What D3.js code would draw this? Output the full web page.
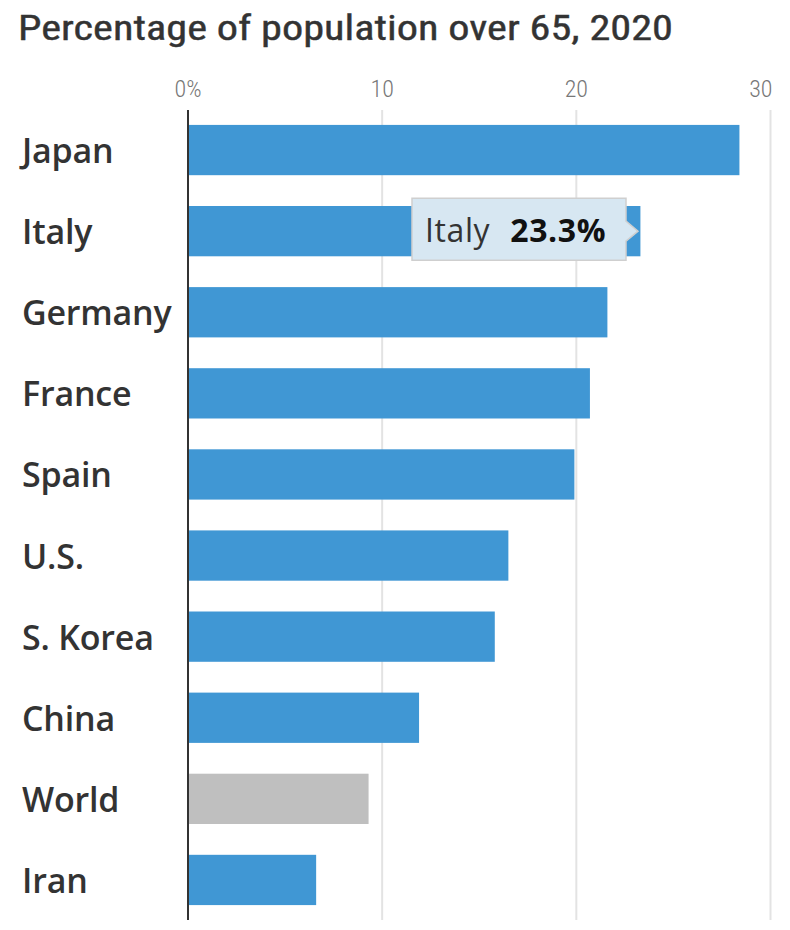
<!DOCTYPE html>
<html><head><meta charset="utf-8">
<script src="https://cdn.jsdelivr.net/npm/d3@7"></script>
<style>
body{margin:0;background:#fff;}
svg{display:block;}
</style></head>
<body>
<script>
const categories = ["Japan","Italy","Germany","France","Spain","U.S.","S. Korea","China","World","Iran"];
const values = [28.4,23.3,21.6,20.7,19.9,16.5,15.8,11.9,9.3,6.6];
const tickValues = [0,10,20,30];
const tickLabels = ["0%","10","20","30"];
const highlight = {name:"Italy", value:"23.3%"};

const W=790,H=930;
const svg=d3.select("body").append("svg").attr("width",W).attr("height",H);
const narrow="'Roboto Condensed','Liberation Sans Narrow',Roboto,sans-serif";

svg.append("text").attr("x",18).attr("y",40).attr("font-family",narrow)
  .attr("font-size",35).attr("font-weight",400).attr("fill","#333")
  .attr("stroke","#333").attr("stroke-width",0.4)
  .attr("textLength",655).attr("lengthAdjust","spacingAndGlyphs")
  .text("Percentage of population over 65, 2020");

const x=d3.scaleLinear().domain([0,30]).range([188,770.5]);
const y=d3.scaleBand().domain(categories).range([125-15.5,905+15.5]).paddingInner(0.38).paddingOuter(0.19);

svg.append("g").selectAll("line").data(tickValues.slice(1)).join("line")
  .attr("x1",d=>x(d)).attr("x2",d=>x(d)).attr("y1",110).attr("y2",920)
  .attr("stroke","#e3e3e3").attr("stroke-width",2);

svg.append("g").selectAll("text").data(tickValues).join("text")
  .attr("x",(d,i)=>i===tickValues.length-1?x(d)+2:x(d)).attr("y",97)
  .attr("text-anchor",(d,i)=>i===tickValues.length-1?"end":"middle")
  .attr("font-family",narrow).attr("font-weight",300).attr("font-size",24).attr("fill","#777")
  .text((d,i)=>tickLabels[i]);

svg.append("g").selectAll("rect").data(categories).join("rect")
  .attr("x",x(0)).attr("y",d=>y(d)).attr("height",y.bandwidth())
  .attr("width",(d,i)=>x(values[i])-x(0))
  .attr("fill",d=>d==="World"?"#bfbfbf":"#4097d4");

svg.append("line").attr("x1",x(0)).attr("x2",x(0)).attr("y1",110).attr("y2",920)
  .attr("stroke","#333").attr("stroke-width",2);

svg.append("g").selectAll("text").data(categories).join("text")
  .attr("x",22).attr("y",d=>y(d)+y.bandwidth()/2+13)
  .attr("font-family","'Open Sans','Noto Sans',sans-serif").attr("font-weight",600)
  .attr("font-size",34).attr("fill","#333").attr("letter-spacing",-0.2).text(d=>d);

const ty=y(highlight.name)+y.bandwidth()/2;
const tg=svg.append("g");
tg.append("path")
  .attr("d",`M412,${ty-33}H626V${ty-10}L638,${ty}L626,${ty+10}V${ty+29}H412Z`)
  .attr("fill","#d7e7f2").attr("stroke","#cfcfcf").attr("stroke-width",1.5);
const tt=tg.append("text").attr("x",425).attr("y",ty+11)
  .attr("font-family","'Open Sans','Noto Sans',sans-serif").attr("font-size",32).attr("fill","#333").attr("letter-spacing",0.6);
tt.append("tspan").text(highlight.name);
tt.append("tspan").attr("dx",20).attr("font-weight",700).attr("fill","#111").text(highlight.value);
</script>
</body></html>
